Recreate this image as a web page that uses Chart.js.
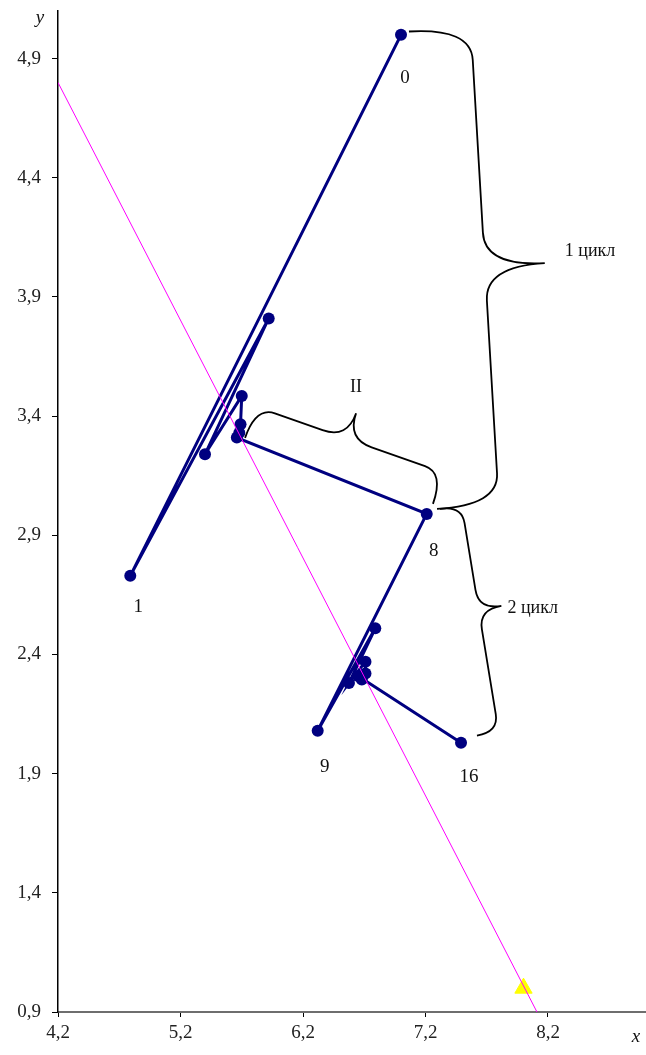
<!DOCTYPE html>
<html>
<head>
<meta charset="utf-8">
<script src="https://cdn.jsdelivr.net/npm/chart.js@4/dist/chart.umd.min.js"></script>
<style>
    html, body { margin: 0; padding: 0; background: #fff; }
    #wrap { width: 646px; height: 1055px; }
</style>
</head>
<body>
<div id="wrap"><canvas id="chart" width="646" height="1055"></canvas></div>
<script>
// Search path, points 0..16 (cycle 1: 0-8, cycle 2: 8-16)
const pathX = [7.00, 4.79, 5.92, 5.40, 5.70, 5.69, 5.68, 5.66, 7.21, 6.32, 6.79, 6.575, 6.71, 6.71, 6.68, 6.65, 7.49];
const pathY = [5.00, 2.73, 3.81, 3.24, 3.485, 3.366, 3.33, 3.31, 2.99, 2.08, 2.51, 2.28, 2.37, 2.32, 2.295, 2.31, 2.03];

// Ravine axis line and the minimum marker
const axisLineX = [4.2, 8.11];
const axisLineY = [4.80, 0.9];
const minimumX = [8.0];
const minimumY = [1.0];

const xTicks = [4.2, 5.2, 6.2, 7.2, 8.2];
const yTicks = [0.9, 1.4, 1.9, 2.4, 2.9, 3.4, 3.9, 4.4, 4.9];

// Labelled point numbers
const labelIndex = [0, 1, 8, 9, 16];
const labelText = ['0', '1', '8', '9', '16'];

const SERIF = '"Liberation Serif", "Times New Roman", serif';

function toPoints(xs, ys) {
    return xs.map((x, i) => ({ x: x, y: ys[i] }));
}

function fmt(v) {
    return v.toFixed(1).replace('.', ',');
}

/**
 * Curly brace between p1 and p2 (pixels), bulging to the right of p1->p2.
 */
function drawBrace(ctx, p1, p2, arm, tip, r1, r2, t) {
    const dx = p2.x - p1.x, dy = p2.y - p1.y;
    const len = Math.hypot(dx, dy);
    const ux = dx / len, uy = dy / len;
    const nx = uy, ny = -ux;
    const m = { x: p1.x + dx * t, y: p1.y + dy * t };
    const P = (b, along, side) => [b.x + ux * along + nx * side, b.y + uy * along + ny * side];

    ctx.beginPath();
    ctx.moveTo(p1.x, p1.y);
    ctx.quadraticCurveTo(...P(p1, 0, arm), ...P(p1, r1, arm));
    ctx.lineTo(...P(m, -r2, arm));
    ctx.quadraticCurveTo(...P(m, 0, arm), ...P(m, 0, tip));
    ctx.quadraticCurveTo(...P(m, 0, arm), ...P(m, r2, arm));
    ctx.lineTo(...P(p2, -r1, arm));
    ctx.quadraticCurveTo(...P(p2, 0, arm), p2.x, p2.y);
    ctx.stroke();

    const tp = P(m, 0, tip);
    return { x: tp[0], y: tp[1] };
}

// Chart.js keeps a few px free on the right; let the plot run to the canvas edge
const fullWidth = {
    id: 'fullWidth',
    afterLayout(chart) {
        const s = chart.scales.x;
        s.right = chart.width;
        s.width = s.right - s.left;
        s.configure();
        chart.chartArea.right = chart.width;
        chart.chartArea.width = chart.width - chart.chartArea.left;
    }
};

const annotations = {
    id: 'annotations',
    afterDraw(chart) {
        const ctx = chart.ctx;
        const xs = chart.scales.x, ys = chart.scales.y;
        const px = (x, y) => ({ x: xs.getPixelForValue(x), y: ys.getPixelForValue(y) });

        ctx.save();
        ctx.fillStyle = '#111';
        ctx.font = '19px ' + SERIF;
        ctx.textAlign = 'center';
        ctx.textBaseline = 'middle';
        const offs = [[4, 43], [8, 31], [7, 37], [7, 36], [8, 34]];
        labelIndex.forEach((idx, i) => {
            const p = px(pathX[idx], pathY[idx]);
            ctx.fillText(labelText[i], p.x + offs[i][0], p.y + offs[i][1]);
        });

        // braces
        ctx.strokeStyle = '#000';
        ctx.lineWidth = 1.8;
        const b1 = drawBrace(ctx, px(7.065, 5.014), px(7.294, 3.011), 62, 122, 32, 34, 0.5);
        const b2 = drawBrace(ctx, px(7.318, 3.011), px(7.620, 2.060), 22, 45, 18, 20, 0.46);
        const b3 = drawBrace(ctx, px(5.727, 3.309), px(7.261, 3.032), 33, 60, 20, 26, 0.485);

        ctx.font = '18px ' + SERIF;
        ctx.textAlign = 'left';
        ctx.fillText('1 цикл', b1.x + 20, b1.y - 12);
        ctx.fillText('2 цикл', b2.x + 6, b2.y + 2);
        ctx.textAlign = 'center';
        ctx.fillText('II', b3.x, b3.y - 26);

        // axis titles
        ctx.font = 'italic 19px ' + SERIF;
        ctx.fillText('y', chart.chartArea.left - 18, 18);
        ctx.fillText('x', 636, 1037);
        ctx.restore();
    }
};

new Chart(document.getElementById('chart'), {
    type: 'scatter',
    data: {
        datasets: [{
            data: toPoints(axisLineX, axisLineY),
            showLine: true,
            borderColor: '#ff00ff',
            borderWidth: 1,
            pointRadius: 0,
            order: 0,
        }, {
            data: toPoints(minimumX, minimumY),
            pointStyle: 'triangle',
            pointRadius: 10,
            backgroundColor: '#ffff00',
            borderColor: '#ffff00',
            borderWidth: 1,
            order: 0,
        }, {
            data: toPoints(pathX, pathY),
            showLine: true,
            borderColor: '#000080',
            backgroundColor: '#000080',
            borderWidth: 3,
            pointRadius: 6,
            pointBorderWidth: 0,
            order: 1,
        }],
    },
    options: {
        responsive: false,
        animation: false,
        layout: { padding: { top: 9, right: 0, left: 0, bottom: 0 } },
        plugins: {
            legend: { display: false },
            tooltip: { enabled: false },
        },
        scales: {
            x: {
                type: 'linear',
                min: 4.2,
                max: 9.0,
                afterBuildTicks: (s) => { s.ticks = xTicks.map(v => ({ value: v })); },
                afterFit: (s) => { s.height = 43; s.paddingLeft = 0; s.paddingRight = 0; },
                grid: { display: true, drawOnChartArea: false, drawTicks: true, tickLength: 5, color: '#000' },
                border: { display: true, color: '#6e6e6e', width: 2 },
                ticks: {
                    autoSkip: false,
                    maxRotation: 0,
                    padding: 5,
                    color: '#222',
                    font: { family: SERIF, size: 19 },
                    callback: (v) => fmt(v),
                },
            },
            y: {
                type: 'linear',
                min: 0.9,
                max: 5.1,
                afterBuildTicks: (s) => { s.ticks = yTicks.map(v => ({ value: v })); },
                afterFit: (s) => { s.width = 58; s.paddingTop = 0; s.paddingBottom = 0; },
                grid: { display: true, drawOnChartArea: false, drawTicks: true, tickLength: 6, color: '#000' },
                border: { display: true, color: '#000', width: 1.5 },
                ticks: {
                    autoSkip: false,
                    padding: 11,
                    color: '#222',
                    font: { family: SERIF, size: 19 },
                    callback: (v) => fmt(v),
                },
            },
        },
    },
    plugins: [fullWidth, annotations],
});
</script>
</body>
</html>
